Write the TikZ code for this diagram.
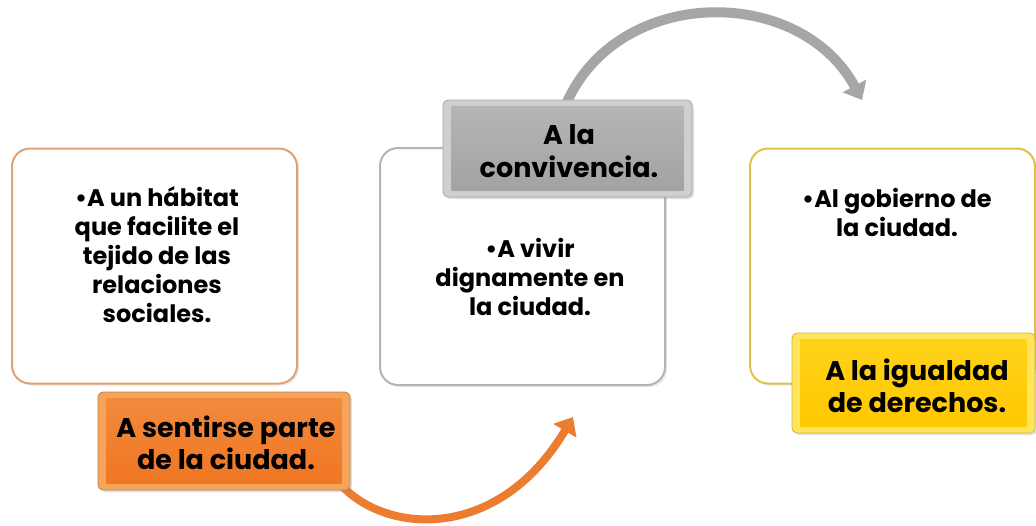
\documentclass[tikz,border=0pt]{standalone}
\usepackage{fontspec}
\setmainfont{Poppins}
\usetikzlibrary{arrows.meta,shadows,calc}
\definecolor{orB}{HTML}{E3A070}
\definecolor{grB}{HTML}{B4B4B4}
\definecolor{yeB}{HTML}{E2C04E}
\definecolor{orMain}{HTML}{F07622}
\definecolor{orTop}{HTML}{F28A3C}
\definecolor{orEdge}{HTML}{F6A45A}
\definecolor{grMain}{HTML}{A3A3A3}
\definecolor{grTop}{HTML}{B5B5B5}
\definecolor{grEdge}{HTML}{CFCFCF}
\definecolor{yeMain}{HTML}{FFC800}
\definecolor{yeTop}{HTML}{FFD21A}
\definecolor{yeEdge}{HTML}{FFE45C}
\definecolor{orArrow}{HTML}{EB7C30}
\definecolor{grArrow}{HTML}{A6A6A6}
\begin{document}
\begin{tikzpicture}[x=1pt,y=-1pt,
  whitebox/.style={draw=#1, line width=2pt, fill=white, rounded corners=18pt,
    minimum width=285pt, minimum height=235pt,
    drop shadow={opacity=0.18, shadow xshift=2pt, shadow yshift=-2pt}},
  colbox/.style={draw=#1!80!black, line width=0.8pt, fill=#1, rounded corners=5pt,
    drop shadow={opacity=0.25, shadow xshift=2pt, shadow yshift=-2pt}},
  txt/.style={align=center, font=\bfseries\fontsize{24}{29}\selectfont, inner sep=0pt},
  bigtxt/.style={align=center, font=\bfseries\fontsize{27}{32.5}\selectfont, inner sep=0pt},
  arrowline/.style={line width=#1, -{Triangle[width=26pt,length=16pt]}}
]
\useasboundingbox (0,0) rectangle (1036,525);

% arrows (behind boxes)
\coordinate (oStart) at (343,487);
\coordinate (oEnd) at (573,417);
\coordinate (gStart) at (567,102);
\coordinate (gEnd) at (862,100);
\draw[arrowline=8pt, draw=orArrow] (oStart) .. controls (390,535) and (500,540) .. (oEnd);
\draw[arrowline=10pt, draw=grArrow] (gStart) .. controls (620,-15) and (800,-15) .. (gEnd);

% white boxes
\node[whitebox=orB, minimum height=235pt] (b1) at (154.5,266) {};
\node[whitebox=grB, minimum height=237pt] (b2) at (522.5,266.5) {};
\node[whitebox=yeB, minimum height=235pt] (b3) at (892.5,266) {};

\node[txt] (t1) at (157,255) {•A un hábitat\\que facilite el\\tejido de las\\relaciones\\sociales.};
\node[txt] (t2) at (530,277) {•A vivir\\dignamente en\\la ciudad.};
\node[txt] (t3) at (897,212) {•Al gobierno de\\la ciudad.};

% coloured bevel boxes
\node[colbox=orEdge, minimum width=252pt, minimum height=98pt] (ob) at (224,441) {};
\fill[top color=orTop, bottom color=orMain] ($(ob.north west)+(9,7)$) rectangle ($(ob.south east)+(-9,-7)$);
\node[bigtxt] (ot) at (226,443) {A sentirse parte\\de la ciudad.};

\node[colbox=grEdge, minimum width=249pt, minimum height=97pt] (gb) at (567.5,148.5) {};
\fill[top color=grTop, bottom color=grMain] ($(gb.north west)+(9,7)$) rectangle ($(gb.south east)+(-9,-7)$);
\node[bigtxt] (gt) at (569,151) {A la\\convivencia.};

\node[colbox=yeEdge, minimum width=243pt, minimum height=100pt] (yb) at (913.5,383) {};
\fill[top color=yeTop, bottom color=yeMain] ($(yb.north west)+(9,7)$) rectangle ($(yb.south east)+(-9,-7)$);
\node[bigtxt] (yt) at (917,386) {A la igualdad\\de derechos.};
\end{tikzpicture}
\end{document}
